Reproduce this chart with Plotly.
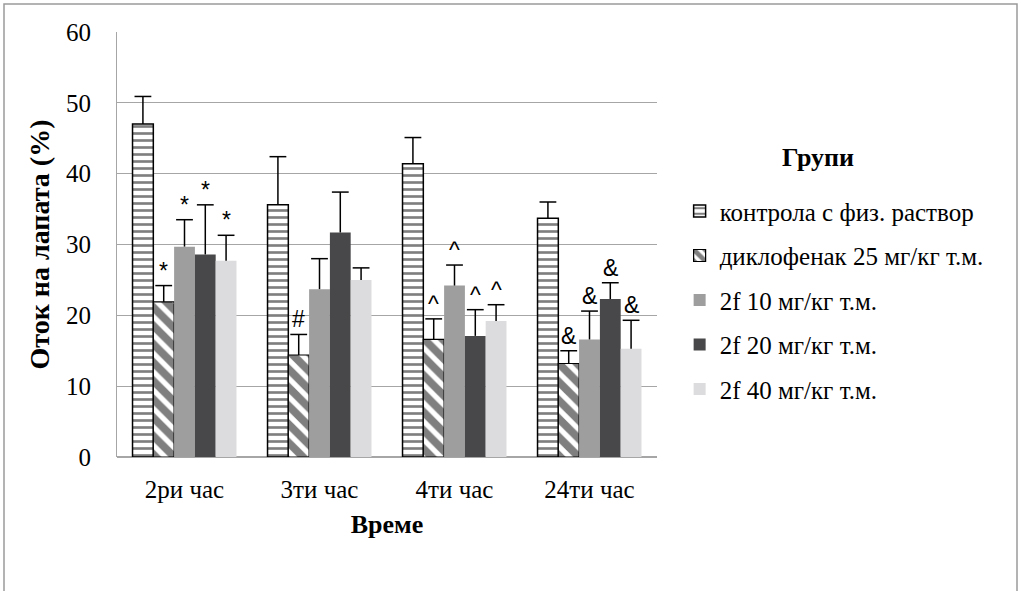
import plotly.graph_objects as go

categories = ["2ри час", "3ти час", "4ти час", "24ти час"]
series_names = [
    "контрола с физ. раствор",
    "диклофенак 25 мг/кг т.м.",
    "2f 10 мг/кг т.м.",
    "2f 20 мг/кг т.м.",
    "2f 40 мг/кг т.м.",
]
control = [47.0, 35.6, 41.4, 33.7]
control_err = [3.9, 6.8, 3.7, 2.3]
diclofenac = [21.9, 14.4, 16.6, 13.2]
diclofenac_err = [2.3, 2.9, 2.9, 1.8]
f10 = [29.7, 23.7, 24.2, 16.6]
f10_err = [3.8, 4.3, 2.9, 4.0]
f20 = [28.6, 31.7, 17.1, 22.3]
f20_err = [7.0, 5.7, 3.7, 2.3]
f40 = [27.7, 25.0, 19.2, 15.3]
f40_err = [3.6, 1.7, 2.3, 4.0]
sig_control = ["", "", "", ""]
sig_diclofenac = ["*", "#", "^", "&"]
sig_f10 = ["*", "", "^", "&"]
sig_f20 = ["*", "", "^", "&"]
sig_f40 = ["*", "", "^", "&"]

values = [control, diclofenac, f10, f20, f40]
errors = [control_err, diclofenac_err, f10_err, f20_err, f40_err]
signs = [sig_control, sig_diclofenac, sig_f10, sig_f20, sig_f40]

SERIF = "'Times New Roman', 'Liberation Serif', serif"
bargap = 0.23
n = len(values)
bw = (1 - bargap) / n
xs = list(range(len(categories)))

styles = [
    dict(color="white", line=dict(color="black", width=1.5),
         pattern=dict(shape="-", fgcolor="black", bgcolor="white", size=7, solidity=0.38)),
    dict(color="white", line=dict(color="black", width=1.2),
         pattern=dict(shape="\\", fgcolor="black", bgcolor="white", size=13, solidity=0.6)),
    dict(color="#9e9e9e", line=dict(color="#9e9e9e", width=0)),
    dict(color="#48484a", line=dict(color="#48484a", width=0)),
    dict(color="#dcdcde", line=dict(color="#dcdcde", width=0)),
]

fig = go.Figure()
for i in range(n):
    fig.add_trace(go.Bar(
        x=xs, y=values[i], name=series_names[i], marker=styles[i],
        legendgroup=f"g{i}",
        error_y=dict(type="data", array=errors[i], arrayminus=[0] * len(xs),
                     symmetric=False, color="black", thickness=1.5, width=0),
    ))

annotations = []
for i in range(n):
    off = -(1 - bargap) / 2 + bw * (i + 0.5)
    tops = [v + e for v, e in zip(values[i], errors[i])]
    fig.add_trace(go.Scatter(
        x=[x + off for x in xs], y=tops, mode="markers", showlegend=False, hoverinfo="skip",
        marker=dict(symbol="line-ew", size=12, line=dict(color="black", width=1.5)),
    ))
    for j, s in enumerate(signs[i]):
        if s:
            annotations.append(dict(
                x=xs[j] + off, y=tops[j], xref="x", yref="y",
                text=s, showarrow=False, yanchor="bottom", yshift=0,
                font=dict(family="Liberation Sans", size=23, color="black")))

annotations.append(dict(x=(818 - 117) / 540, y=(457 - 157) / 425, xref="paper", yref="paper",
                        xanchor="center", yanchor="middle", text="<b>Групи</b>",
                        showarrow=False, font=dict(family=SERIF, size=26, color="black")))

fig.update_layout(
    width=1022, height=591,
    margin=dict(l=117, r=365, t=32, b=134),
    paper_bgcolor="white", plot_bgcolor="white",
    barmode="group", bargap=bargap, bargroupgap=0,
    font=dict(family=SERIF, size=25, color="black"),
    showlegend=True,
    legend=dict(xref="container", yref="container", x=0.665, y=0.492, xanchor="left", yanchor="middle",
                font=dict(family=SERIF, size=25, color="black"), tracegroupgap=9,
                bgcolor="rgba(0,0,0,0)"),
    xaxis=dict(tickvals=xs, ticktext=categories, range=[-0.5, len(xs) - 0.5],
               showgrid=False, showline=False, ticks="", zeroline=False,
               ticklabelstandoff=15,
               tickfont=dict(family=SERIF, size=25),
               title=dict(text="<b>Време</b>", font=dict(family=SERIF, size=26), standoff=12)),
    yaxis=dict(range=[0, 60], dtick=10, showgrid=True, gridcolor="#a6a6a6", gridwidth=1,
               showline=True, linecolor="#a6a6a6", linewidth=1, zeroline=True,
               zerolinecolor="#a6a6a6", ticks="", ticklabelstandoff=20,
               tickfont=dict(family=SERIF, size=25),
               title=dict(text="<b>Оток на лапата (%)</b>", font=dict(family=SERIF, size=28), standoff=8)),
    annotations=annotations,
)
fig.add_shape(type="rect", xref="paper", yref="paper",
              x0=(4 - 117) / 540, x1=(1017 - 117) / 540, y0=(457 - 600) / 425, y1=(457 - 4) / 425,
              line=dict(color="#9a9a9a", width=1.5), fillcolor="rgba(0,0,0,0)", layer="below")
fig.write_html("out.html")
